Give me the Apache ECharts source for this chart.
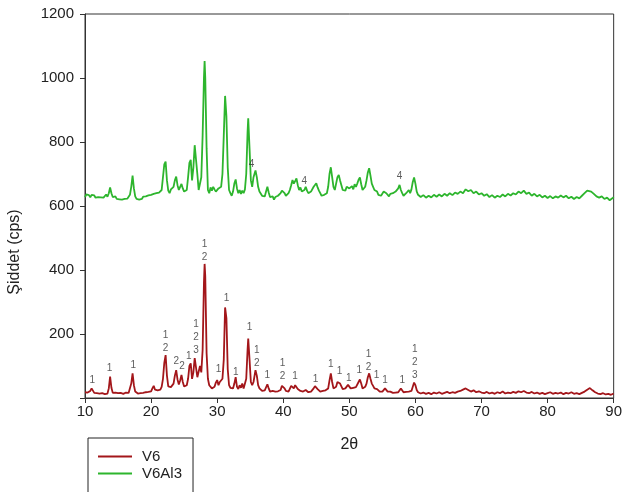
<!DOCTYPE html>
<html>
<head>
<meta charset="utf-8">
<title>XRD V6 / V6Al3</title>
<script src="https://cdn.jsdelivr.net/npm/echarts@6/dist/echarts.min.js"></script>
<style>
  html, body { margin: 0; padding: 0; background: #fff; }
  #main { width: 625px; height: 492px; }
</style>
</head>
<body>
<div id="main"></div>
<script>
// V6 olcumu [2θ, cps]
var v6 = [
  [10.0,18],[10.2,14],[10.4,17],[10.6,15],[10.8,22],[11.0,30],[11.2,24],[11.4,16],[11.6,13],[11.8,15],
  [12.0,12],[12.2,14],[12.4,11],[12.6,15],[12.8,13],[13.0,12],[13.2,15],[13.4,14],[13.6,30],[13.8,67],
  [14.0,32],[14.2,16],[14.4,14],[14.6,17],[14.8,13],[15.0,15],[15.2,12],[15.4,16],[15.6,14],[15.8,13],
  [16.0,15],[16.2,17],[16.4,14],[16.6,16],[16.8,22],[17.0,45],[17.2,77],[17.4,40],[17.6,20],[17.8,16],
  [18.0,14],[18.2,17],[18.4,15],[18.6,18],[18.8,16],[19.0,20],[19.2,18],[19.4,22],[19.6,19],[19.8,24],
  [20.0,21],[20.2,30],[20.4,38],[20.6,26],[20.8,28],[21.0,24],[21.2,30],[21.4,26],[21.6,35],[21.8,60],
  [22.0,110],[22.2,134],[22.4,70],[22.6,36],[22.8,30],[23.0,34],[23.2,38],[23.4,45],[23.6,70],[23.8,87],
  [24.0,58],[24.2,42],[24.4,55],[24.6,72],[24.8,50],[25.0,36],[25.2,34],[25.4,40],[25.6,60],[25.8,100],
  [26.0,108],[26.2,60],[26.4,80],[26.6,125],[26.8,120],[27.0,65],[27.2,60],[27.4,100],[27.6,80],[27.8,150],
  [28.0,360],[28.1,419],[28.2,380],[28.4,140],[28.6,60],[28.8,40],[29.0,35],[29.2,30],[29.4,28],[29.6,35],
  [29.8,48],[30.0,56],[30.2,40],[30.4,50],[30.6,45],[30.8,60],[31.0,120],[31.2,283],[31.4,250],[31.6,90],
  [31.8,40],[32.0,32],[32.2,28],[32.4,30],[32.6,45],[32.8,65],[33.0,35],[33.2,28],[33.4,40],[33.6,32],
  [33.8,45],[34.0,30],[34.2,35],[34.4,60],[34.6,150],[34.7,186],[34.9,120],[35.1,50],[35.3,40],[35.5,50],
  [35.8,87],[36.0,70],[36.2,40],[36.4,30],[36.6,25],[36.8,22],[37.0,26],[37.2,24],[37.4,30],[37.6,43],
  [37.8,30],[38.0,20],[38.2,18],[38.4,22],[38.6,17],[38.8,20],[39.0,18],[39.2,21],[39.4,19],[39.6,25],
  [39.8,38],[40.0,44],[40.2,30],[40.4,22],[40.6,18],[40.8,20],[41.0,25],[41.2,38],[41.4,43],[41.6,30],
  [41.8,40],[42.0,36],[42.2,28],[42.4,24],[42.6,22],[42.8,26],[43.0,20],[43.2,22],[43.4,25],[43.6,20],
  [43.8,18],[44.0,22],[44.2,20],[44.4,26],[44.6,30],[44.8,37],[45.0,33],[45.2,28],[45.4,24],[45.6,20],
  [45.8,18],[46.0,22],[46.2,20],[46.4,24],[46.6,22],[46.8,30],[47.0,55],[47.2,77],[47.4,50],[47.6,30],
  [47.8,26],[48.0,35],[48.2,50],[48.4,56],[48.6,45],[48.8,40],[49.0,28],[49.2,24],[49.4,30],[49.6,35],
  [49.8,41],[50.0,38],[50.2,30],[50.4,35],[50.6,32],[50.8,38],[51.0,34],[51.2,40],[51.4,50],[51.6,58],
  [51.8,45],[52.0,30],[52.2,28],[52.4,35],[52.6,45],[52.8,65],[53.0,77],[53.2,60],[53.4,45],[53.6,38],
  [53.8,30],[54.0,35],[54.2,28],[54.4,22],[54.6,20],[54.8,24],[55.0,20],[55.2,24],[55.4,30],[55.6,24],
  [55.8,20],[56.0,17],[56.2,20],[56.4,18],[56.6,16],[56.8,19],[57.0,17],[57.2,20],[57.4,18],[57.6,24],
  [57.8,30],[58.0,24],[58.2,18],[58.4,16],[58.6,19],[58.8,17],[59.0,20],[59.2,18],[59.4,22],[59.6,35],
  [59.8,48],[60.0,40],[60.2,25],[60.4,18],[60.8,14],[61.2,17],[61.6,13],[62.0,16],[62.4,12],[62.8,17],
  [63.2,14],[63.6,18],[64.0,13],[64.4,16],[64.8,19],[65.2,15],[65.6,18],[66.0,16],[66.4,20],[66.8,22],
  [67.2,26],[67.6,30],[68.0,25],[68.4,20],[68.8,24],[69.2,18],[69.6,21],[70.0,17],[70.4,15],[70.8,19],
  [71.2,14],[71.6,17],[72.0,13],[72.4,18],[72.8,15],[73.2,20],[73.6,14],[74.0,17],[74.4,15],[74.8,19],
  [75.2,16],[75.6,21],[76.0,18],[76.4,22],[76.8,17],[77.2,15],[77.6,19],[78.0,14],[78.4,17],[78.8,13],
  [79.2,16],[79.6,12],[80.0,15],[80.4,18],[80.8,13],[81.2,16],[81.6,14],[82.0,17],[82.4,12],[82.8,16],
  [83.2,14],[83.6,18],[84.0,13],[84.4,15],[84.8,12],[85.2,16],[85.6,20],[86.0,26],[86.4,31],[86.8,24],
  [87.2,18],[87.6,14],[88.0,12],[88.4,15],[88.8,11],[89.2,13],[89.6,10],[90.0,14]
];

// V6Al3 olcumu [2θ, cps]
var v6al3 = [
  [10.0,628],[10.2,636],[10.4,630],[10.6,634],[10.8,627],[11.0,635],[11.2,629],[11.4,633],[11.6,626],[11.8,632],
  [12.0,628],[12.2,634],[12.4,627],[12.6,631],[12.8,626],[13.0,630],[13.2,636],[13.4,629],[13.6,640],[13.8,658],
  [14.0,640],[14.2,628],[14.4,624],[14.6,630],[14.8,622],[15.0,627],[15.2,621],[15.4,626],[15.6,620],[15.8,625],
  [16.0,622],[16.2,628],[16.4,623],[16.6,627],[16.8,635],[17.0,660],[17.2,695],[17.4,655],[17.6,630],[17.8,622],
  [18.0,627],[18.2,620],[18.4,626],[18.6,622],[18.8,629],[19.0,624],[19.2,630],[19.4,626],[19.6,633],[19.8,628],
  [20.0,635],[20.2,630],[20.4,638],[20.6,633],[20.8,640],[21.0,636],[21.2,642],[21.4,638],[21.6,650],[21.8,690],
  [22.0,730],[22.2,739],[22.4,680],[22.6,648],[22.8,640],[23.0,652],[23.2,646],[23.4,660],[23.6,680],[23.8,692],
  [24.0,665],[24.2,650],[24.4,660],[24.6,669],[24.8,655],[25.0,645],[25.2,640],[25.4,650],[25.6,690],[25.8,735],
  [26.0,744],[26.2,680],[26.4,720],[26.6,790],[26.8,796],[27.0,700],[27.2,650],[27.4,645],[27.6,690],[27.8,820],
  [28.0,1000],[28.1,1053],[28.2,1000],[28.4,780],[28.6,650],[28.8,640],[29.0,658],[29.2,648],[29.4,660],[29.6,652],
  [29.8,645],[30.0,640],[30.2,655],[30.4,650],[30.6,660],[30.8,700],[31.0,820],[31.2,944],[31.4,880],[31.6,720],
  [31.8,650],[32.0,640],[32.2,632],[32.4,645],[32.6,670],[32.8,683],[33.0,655],[33.2,640],[33.4,650],[33.6,638],
  [33.8,648],[34.0,640],[34.2,652],[34.4,700],[34.6,830],[34.7,874],[34.9,780],[35.1,680],[35.3,660],[35.5,690],
  [35.8,711],[36.0,690],[36.2,660],[36.4,645],[36.6,640],[36.8,632],[37.0,638],[37.2,630],[37.4,645],[37.6,660],
  [37.8,642],[38.0,628],[38.2,622],[38.4,630],[38.6,620],[38.8,628],[39.0,624],[39.2,632],[39.4,628],[39.6,640],
  [39.8,648],[40.0,653],[40.2,640],[40.4,632],[40.6,628],[40.8,640],[41.0,650],[41.2,665],[41.4,681],[41.6,670],
  [41.8,678],[42.0,686],[42.2,665],[42.4,650],[42.6,658],[42.8,645],[43.0,640],[43.2,650],[43.4,660],[43.6,648],
  [43.8,640],[44.0,636],[44.2,645],[44.4,650],[44.6,660],[44.8,665],[45.0,671],[45.2,658],[45.4,648],[45.6,640],
  [45.8,632],[46.0,628],[46.2,635],[46.4,630],[46.6,640],[46.8,660],[47.0,700],[47.2,721],[47.4,690],[47.6,660],
  [47.8,650],[48.0,670],[48.2,690],[48.4,697],[48.6,680],[48.8,665],[49.0,650],[49.2,655],[49.4,648],[49.6,660],
  [49.8,664],[50.0,655],[50.2,650],[50.4,662],[50.6,652],[50.8,668],[51.0,660],[51.2,670],[51.4,682],[51.6,689],
  [51.8,668],[52.0,650],[52.2,645],[52.4,660],[52.6,680],[52.8,705],[53.0,718],[53.2,695],[53.4,670],[53.6,660],
  [53.8,650],[54.0,655],[54.2,645],[54.4,635],[54.6,640],[54.8,632],[55.0,638],[55.2,645],[55.4,650],[55.6,640],
  [55.8,635],[56.0,630],[56.2,638],[56.4,632],[56.6,640],[56.8,636],[57.0,645],[57.2,640],[57.4,655],[57.6,666],
  [57.8,650],[58.0,640],[58.2,632],[58.4,636],[58.6,640],[58.8,645],[59.0,650],[59.2,640],[59.4,652],[59.6,675],
  [59.8,689],[60.0,670],[60.2,645],[60.4,635],[60.8,628],[61.2,634],[61.6,626],[62.0,632],[62.4,627],[62.8,635],
  [63.2,629],[63.6,636],[64.0,630],[64.4,638],[64.8,632],[65.2,640],[65.6,634],[66.0,642],[66.4,638],[66.8,645],
  [67.2,640],[67.6,652],[68.0,646],[68.4,650],[68.8,640],[69.2,645],[69.6,636],[70.0,640],[70.4,632],[70.8,637],
  [71.2,628],[71.6,634],[72.0,626],[72.4,632],[72.8,628],[73.2,636],[73.6,630],[74.0,638],[74.4,633],[74.8,640],
  [75.2,636],[75.6,645],[76.0,640],[76.4,648],[76.8,638],[77.2,642],[77.6,632],[78.0,638],[78.4,630],[78.8,635],
  [79.2,627],[79.6,632],[80.0,625],[80.4,631],[80.8,624],[81.2,630],[81.6,626],[82.0,633],[82.4,627],[82.8,632],
  [83.2,624],[83.6,629],[84.0,622],[84.4,628],[84.8,624],[85.2,632],[85.6,640],[86.0,648],[86.3,654],[86.6,645],
  [87.0,638],[87.4,630],[87.8,626],[88.2,630],[88.6,622],[89.0,626],[89.4,618],[89.8,624],[90.0,628]
];

// faz numaralari (tepe konumu, tepe yuksekligi, etiket)
var v6Phases = [
  [11.1,30,'1'],[13.7,67,'1'],[17.3,77,'1'],[22.2,130,'1\n2'],[23.8,88,'2'],[24.7,72,'2'],
  [25.7,105,'1'],[26.8,124,'1\n2\n3'],[28.1,414,'1\n2'],[30.2,62,'1'],[31.4,285,'1'],[32.8,55,'1'],
  [34.9,193,'1'],[36.0,83,'1\n2'],[37.6,46,'1'],[39.9,41,'1\n2'],[41.8,41,'1'],[44.9,33,'1'],
  [47.2,78,'1'],[48.5,58,'1'],[49.9,35,'1'],[51.5,61,'1'],[52.9,70,'1\n2'],[54.1,44,'1'],
  [55.4,28,'1'],[58.0,30,'1'],[59.9,45,'1\n2\n3']
];
var v6al3Phases = [[35.2,705,'4'],[43.2,650,'4'],[57.6,666,'4']];

var xTicks = [10, 20, 30, 40, 50, 60, 70, 80, 90];
var yTicks = [200, 400, 600, 800, 1000, 1200];

var myChart = echarts.init(document.getElementById('main'));

function phaseSeries(data) {
    return {
        type: 'scatter',
        data: data,
        symbolSize: 0,
        silent: true,
        z: 5,
        label: {
            show: true,
            position: 'top',
            distance: 2,
            formatter: function (p) { return p.data[2]; },
            color: '#333',
            fontSize: 10,
            lineHeight: 13,
            fontFamily: 'Liberation Sans, Arial, sans-serif'
        }
    };
}

var option = {
    animation: false,
    backgroundColor: '#fff',
    textStyle: { fontFamily: 'Liberation Sans, Arial, sans-serif' },
    grid: {
        left: 85, right: 7, top: 14, bottom: 94,
        show: true,
        borderColor: '#333',
        borderWidth: 1
    },
    legend: {
        data: ['V6', 'V6Al3'],
        orient: 'vertical',
        left: 88,
        top: 438,
        height: 40,
        icon: 'rect',
        itemWidth: 34,
        itemHeight: 2,
        itemGap: 0,
        padding: [10, 11, 20, 10],
        borderColor: '#222',
        borderWidth: 1,
        textStyle: { fontSize: 15, lineHeight: 17, color: '#222', padding: [0, 0, 0, 5] }
    },
    xAxis: {
        type: 'value',
        min: xTicks[0],
        max: xTicks[xTicks.length - 1],
        interval: 10,
        name: '2θ',
        nameLocation: 'middle',
        nameGap: 39,
        nameTextStyle: { fontSize: 16, color: '#222' },
        splitLine: { show: false },
        axisLine: { lineStyle: { color: '#333', width: 1 } },
        axisTick: { show: true, length: 5, lineStyle: { color: '#333' } },
        axisLabel: { fontSize: 15, color: '#222', margin: 6 }
    },
    yAxis: {
        type: 'value',
        min: 0,
        max: yTicks[yTicks.length - 1],
        interval: 200,
        splitLine: { show: false },
        axisLine: { show: true, lineStyle: { color: '#333', width: 1 } },
        axisTick: { show: true, length: 5, lineStyle: { color: '#333' } },
        axisLabel: {
            fontSize: 15, color: '#222', margin: 11,
            formatter: function (v) { return yTicks.indexOf(v) >= 0 ? String(v) : ''; }
        }
    },
    graphic: [{
        type: 'text',
        x: 15,
        y: 252,
        rotation: Math.PI / 2,
        style: {
            text: 'Şiddet (cps)',
            fontSize: 16,
            fill: '#222',
            align: 'center',
            verticalAlign: 'middle',
            fontFamily: 'Liberation Sans, Arial, sans-serif'
        }
    }],
    series: [
        {
            name: 'V6',
            type: 'line',
            data: v6,
            showSymbol: false,
            color: '#a3161a',
            lineStyle: { width: 1.8 }
        },
        {
            name: 'V6Al3',
            type: 'line',
            data: v6al3,
            showSymbol: false,
            color: '#2db52d',
            lineStyle: { width: 1.8 }
        },
        phaseSeries(v6Phases),
        phaseSeries(v6al3Phases)
    ]
};
myChart.setOption(option);
</script>
</body>
</html>
